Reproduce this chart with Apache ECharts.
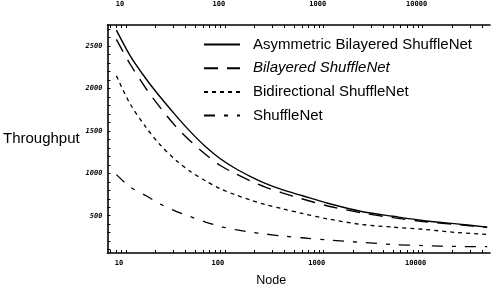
<!DOCTYPE html>
<html><head><meta charset="utf-8">
<script src="https://cdn.jsdelivr.net/npm/echarts@6/dist/echarts.min.js"></script>
<style>html,body{margin:0;padding:0;background:#fff}#c{width:493px;height:292px}</style>
</head><body><div id="c"></div>
<script>
// ---- data ----
const nodes = [8, 11, 16, 22, 32, 45, 64, 90, 128, 180, 256, 380, 600, 1100, 2400, 5000, 10000, 22000, 45000];
const asymBilayered = [2690, 2390, 2113, 1906, 1681, 1489, 1313, 1172, 1057, 965, 882, 807, 738, 647, 550, 493, 443, 404, 365];
const bilayered     = [2580, 2290, 1998, 1781, 1551, 1379, 1223, 1092, 995, 913, 838, 770, 700, 615, 534, 477, 432, 396, 362];
const bidirectional = [2150, 1820, 1540, 1340, 1155, 1020, 911, 818, 746, 687, 632, 583, 528, 462, 397, 365, 340, 302, 280];
const shuffleNet    = [985, 840, 735, 640, 552, 488, 425, 374, 335, 308, 284, 261, 240, 214, 186, 160, 148, 137, 135];
const seriesNames = ['Asymmetric Bilayered ShuffleNet', 'Bilayered ShuffleNet', 'Bidirectional ShuffleNet', 'ShuffleNet'];
const xTickLabels = [10, 100, 1000, 10000];
const yTickLabels = [500, 1000, 1500, 2000, 2500];
const xMin = 6.5, xMax = 48000, yMin = 60, yMax = 2750;

// minor tick positions (log decades / every 100)
const xTicks = [];
for (let d = 1; d <= 10000; d *= 10) for (let m = 1; m <= 9; m++) { const v = m * d; if (v > xMin && v < xMax) xTicks.push(v); }
const yTicks = [];
for (let v = 100; v < yMax; v += 100) if (v > yMin) yTicks.push(v);

const pairs = arr => nodes.map((n, i) => [n, arr[i]]);
const tickFont = { fontFamily: 'DejaVu Sans Mono', fontWeight: 'bold', fontSize: 7, color: '#000', formatter: v => String(Math.round(v)) };

const xCommon = {
  type: 'log', logBase: 10, min: xMin, max: xMax,
  axisLine: { show: true, lineStyle: { color: '#000', width: 1.6 } },
  axisTick: { show: true, inside: true, length: 3, customValues: xTicks, lineStyle: { color: '#000', width: 1 } },
  splitLine: { show: false }, minorTick: { show: false }
};

const chart = echarts.init(document.getElementById('c'), null, { renderer: 'canvas' });
chart.setOption({
  animation: false,
  backgroundColor: '#fff',
  color: ['#000', '#000', '#000', '#000'],
  grid: { left: 107, right: 3, top: 25, bottom: 33, containLabel: false },
  legend: {
    orient: 'vertical', left: 203, top: 37, padding: 0,
    itemWidth: 36, itemHeight: 14, itemGap: 8.7,
    data: seriesNames,
    itemStyle: { opacity: 0 },
    formatter: name => name === 'Bilayered ShuffleNet' ? '{i|' + name + '}' : name,
    textStyle: { fontFamily: 'Liberation Sans', fontSize: 15, color: '#000', padding: [0, 0, 0, 8],
      rich: { i: { fontFamily: 'Liberation Sans', fontSize: 15, fontStyle: 'italic', color: '#000' } } }
  },
  xAxis: [
    Object.assign({}, xCommon, {
      position: 'bottom', name: 'Node', nameLocation: 'middle', nameGap: 21,
      nameTextStyle: { fontFamily: 'Liberation Sans', fontSize: 12.5, color: '#000', padding: [0, 55, 0, 0] },
      axisLabel: Object.assign({ customValues: xTickLabels, margin: 7, padding: [0, 14, 0, 0] }, tickFont)
    }),
    Object.assign({}, xCommon, {
      position: 'top',
      axisLabel: Object.assign({ customValues: xTickLabels, margin: 17, padding: [0, 12, 0, 0] }, tickFont)
    })
  ],
  yAxis: {
    type: 'value', min: yMin, max: yMax,
    name: 'Throughput', nameLocation: 'middle', nameRotate: 0, nameGap: 24,
    nameTextStyle: { fontFamily: 'Liberation Sans', fontSize: 15, color: '#000', padding: [0, 0, 12, 0] },
    axisLine: { show: true, lineStyle: { color: '#000', width: 1.6 } },
    axisTick: { show: true, inside: true, length: 3, customValues: yTicks, lineStyle: { color: '#000', width: 1 } },
    axisLabel: Object.assign({ customValues: yTickLabels, margin: 5, fontStyle: 'italic' }, tickFont),
    splitLine: { show: false }
  },
  series: [
    { name: seriesNames[0], type: 'line', data: pairs(asymBilayered), smooth: 0.3, symbol: 'none',
      itemStyle: { color: '#000' }, lineStyle: { color: '#000', width: 1.4, type: 'solid' } },
    { name: seriesNames[1], type: 'line', data: pairs(bilayered), smooth: 0.3, symbol: 'none',
      itemStyle: { color: '#000' }, lineStyle: { color: '#000', width: 1.4, type: [14, 9] } },
    { name: seriesNames[2], type: 'line', data: pairs(bidirectional), smooth: 0.3, symbol: 'none',
      itemStyle: { color: '#000' }, lineStyle: { color: '#000', width: 1.3, type: [4, 4] } },
    { name: seriesNames[3], type: 'line', data: pairs(shuffleNet), smooth: 0.3, symbol: 'none',
      itemStyle: { color: '#000' }, lineStyle: { color: '#000', width: 1.3, type: [11, 9, 4, 9] } }
  ]
});
</script></body></html>
